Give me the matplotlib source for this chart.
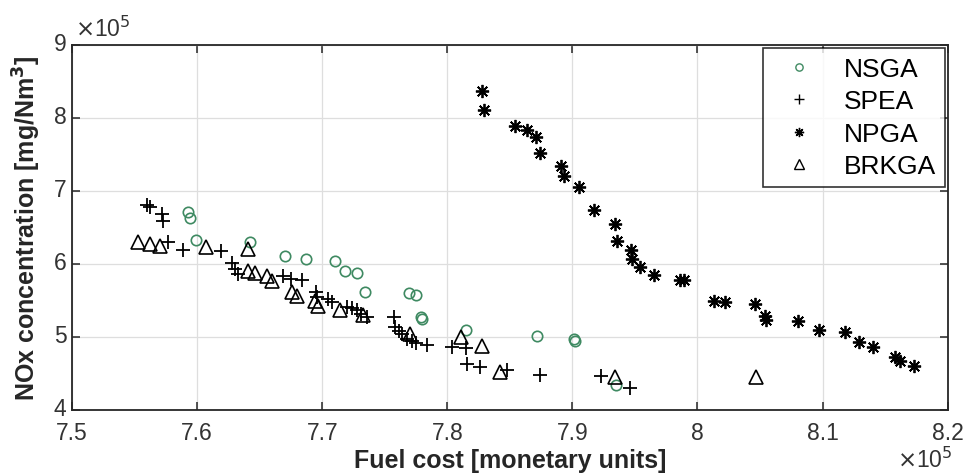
import matplotlib.pyplot as plt
from matplotlib.transforms import ScaledTranslation

plt.rcParams['font.family'] = ['Liberation Sans', 'DejaVu Sans']

# values in units of 1e5
nsga_x = [7.593, 7.594, 7.599, 7.642, 7.670, 7.687, 7.710, 7.718, 7.728, 7.734,
          7.769, 7.775, 7.779, 7.780, 7.815, 7.872, 7.901, 7.902, 7.935]
nsga_y = [6.71, 6.63, 6.33, 6.30, 6.11, 6.07, 6.04, 5.90, 5.88, 5.62,
          5.60, 5.58, 5.28, 5.25, 5.10, 5.01, 4.97, 4.95, 4.34]

spea_x = [7.560, 7.562, 7.572, 7.573, 7.577, 7.589, 7.619, 7.628, 7.630, 7.633,
          7.669, 7.675, 7.684, 7.695, 7.696, 7.705, 7.708, 7.720, 7.724, 7.728,
          7.731, 7.736, 7.757, 7.758, 7.761, 7.764, 7.768, 7.772, 7.775, 7.784,
          7.804, 7.815, 7.816, 7.826, 7.848, 7.874, 7.923, 7.946]
spea_y = [6.81, 6.78, 6.68, 6.59, 6.30, 6.19, 6.18, 6.01, 5.93, 5.86,
          5.84, 5.79, 5.78, 5.62, 5.55, 5.52, 5.48, 5.41, 5.40, 5.37,
          5.32, 5.27, 5.27, 5.14, 5.08, 5.04, 4.97, 4.95, 4.92, 4.89,
          4.86, 4.85, 4.63, 4.59, 4.55, 4.48, 4.47, 4.30]

npga_x = [7.828, 7.829, 7.854, 7.864, 7.871, 7.874, 7.891, 7.893, 7.905, 7.917,
          7.934, 7.936, 7.947, 7.948, 7.954, 7.965, 7.986, 7.989, 8.013, 8.022,
          8.046, 8.054, 8.055, 8.080, 8.097, 8.118, 8.129, 8.140, 8.158, 8.162,
          8.173]
npga_y = [8.37, 8.11, 7.89, 7.84, 7.74, 7.52, 7.34, 7.21, 7.05, 6.74,
          6.55, 6.32, 6.19, 6.07, 5.96, 5.85, 5.78, 5.78, 5.49, 5.48,
          5.45, 5.29, 5.23, 5.22, 5.10, 5.07, 4.93, 4.86, 4.73, 4.67,
          4.60]

brkga_x = [7.553, 7.562, 7.570, 7.607, 7.641, 7.641, 7.646, 7.656, 7.660, 7.676,
           7.680, 7.694, 7.697, 7.714, 7.733, 7.770, 7.811, 7.828, 7.842, 7.934,
           8.047]
brkga_y = [6.30, 6.27, 6.25, 6.23, 6.21, 5.90, 5.88, 5.84, 5.77, 5.62,
           5.56, 5.49, 5.42, 5.37, 5.30, 5.04, 5.00, 4.88, 4.52, 4.45,
           4.45]

x_ticks = [7.5, 7.6, 7.7, 7.8, 7.9, 8.0, 8.1, 8.2]
x_labels = ['7.5', '7.6', '7.7', '7.8', '7.9', '8', '8.1', '8.2']
y_ticks = [4, 5, 6, 7, 8, 9]

fig = plt.figure(figsize=(9.67, 4.77), dpi=100)
ax = fig.add_axes([0.0745, 0.1384, 0.9055, 0.7652])

green = '#3f8a62'
ax.plot(nsga_x, nsga_y, 'o', ms=7.5, mfc='none', mec=green, mew=1.2, label='NSGA')
ax.plot(spea_x, spea_y, '+', ms=9.5, color='black', mew=1.3, label='SPEA')
# asterisk like matlab: 8 spokes
ax.plot(npga_x, npga_y, marker=(8, 2, 0), ls='none', ms=9.5, color='black',
        mew=1.3, label='NPGA')
ax.plot(brkga_x, brkga_y, '^', ms=9.5, mfc='none', mec='black', mew=1.2,
        label='BRKGA')

ax.set_xlim(7.5, 8.2)
ax.set_ylim(4, 9)
ax.set_xticks(x_ticks)
ax.set_xticklabels(x_labels)
ax.set_yticks(y_ticks)
ax.grid(True, color='#dedede', lw=0.9)
ax.set_axisbelow(True)

ax.tick_params(direction='in', length=6, width=1.1, top=True, right=True,
               labelsize=16.5, colors='#262626', labelcolor='#333333')
ax.tick_params(axis='x', pad=8)
ax.tick_params(axis='y', pad=4)
for s in ax.spines.values():
    s.set_color('#262626')
    s.set_linewidth(1.3)

# y tick labels sit a little high, like in the original
shift = ScaledTranslation(0, 3 / 72, fig.dpi_scale_trans)
for lbl in ax.get_yticklabels():
    lbl.set_transform(lbl.get_transform() + shift)

ax.set_xlabel('Fuel cost [monetary units]', fontsize=18, fontweight='bold',
              color='#262626', labelpad=3)
ax.set_ylabel('NOx concentration [mg/Nm$^\\mathbf{3}$]', fontsize=18,
              fontweight='bold', color='#262626', labelpad=8)

ax.text(0.003, 1.01, '$\\times$10$^5$', transform=ax.transAxes, fontsize=16.5,
        color='#333333', ha='left', va='bottom')
ax.text(1.006, -0.1, '$\\times$10$^5$', transform=ax.transAxes, fontsize=16.5,
        color='#333333', ha='right', va='top')

leg = ax.legend(loc='upper right', fontsize=19, frameon=True, fancybox=False,
                edgecolor='black', borderpad=0.35, labelspacing=0.32,
                handlelength=2.0, handletextpad=0.7, borderaxespad=0.1,
                markerscale=0.7)
leg.get_frame().set_linewidth(1.2)
for h in leg.legend_handles:
    h.set_markeredgewidth(1.0)

fig.savefig('out.png', dpi=100)
